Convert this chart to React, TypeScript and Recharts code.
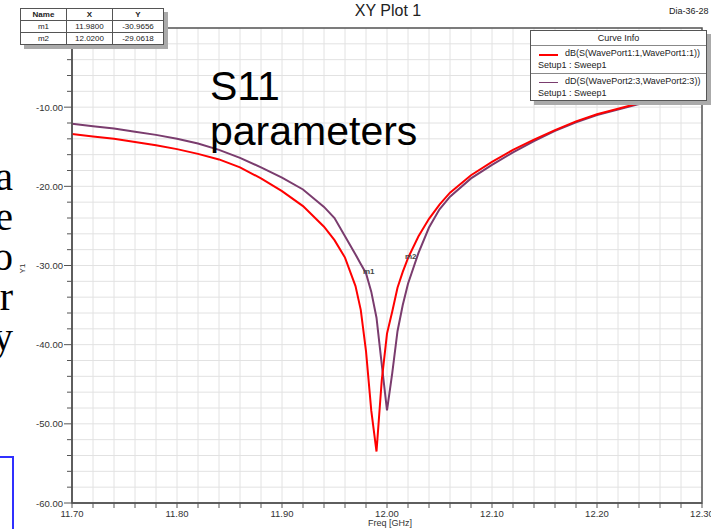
import React from "react";
import {
  LineChart,
  Line,
  XAxis,
  YAxis,
  CartesianGrid,
  ReferenceArea,
  ReferenceDot,
} from "recharts";

// ---------- data ----------
const freqGHz = [
  11.7, 11.72, 11.74, 11.76, 11.78, 11.8, 11.82, 11.84, 11.86, 11.88, 11.9, 11.92,
  11.94, 11.95, 11.96, 11.97, 11.975, 11.98, 11.985, 11.99, 11.995, 12.0, 12.005,
  12.01, 12.015, 12.02, 12.03, 12.04, 12.05, 12.06, 12.08, 12.1, 12.12, 12.14,
  12.16, 12.18, 12.2, 12.22, 12.24, 12.26, 12.28, 12.3,
];
const s11Port1 = [
  -13.4, -13.7, -14.0, -14.4, -14.8, -15.3, -15.9, -16.6, -17.6, -19.0, -20.6, -22.5,
  -25.1, -26.8, -29.0, -32.6, -35.6, -40.8, -48.3, -53.5, -44.5, -38.6, -35.8,
  -32.8, -30.8, -29.06, -26.3, -24.1, -22.3, -20.8, -18.6, -16.9, -15.4, -14.1,
  -12.9, -11.8, -10.9, -10.2, -9.5, -8.8, -8.2, -7.6,
];
const s33Port2 = [
  -12.1, -12.4, -12.7, -13.1, -13.5, -14.0, -14.6, -15.4, -16.4, -17.6, -18.9, -20.4,
  -22.6, -24.0, -26.3, -28.6, -29.8, -30.97, -33.3, -36.6, -42.5, -48.3, -43.6,
  -38.3, -35.0, -32.3, -28.4, -25.2, -22.9, -21.3, -19.0, -17.3, -15.7, -14.3,
  -13.0, -11.9, -11.0, -10.3, -9.6, -8.9, -8.3, -7.7,
];

const seriesNames = ["dB(S(WavePort1:1,WavePort1:1))", "dD(S(WavePort2:3,WavePort2:3))"];
const seriesSetup = ["Setup1 : Sweep1", "Setup1 : Sweep1"];

const markerNames = ["m1", "m2"];
const markerX = [11.98, 12.02];
const markerY = [-30.9656, -29.0618];
const markerXText = ["11.9800", "12.0200"];
const markerYText = ["-30.9656", "-29.0618"];

const xMajorTicks = [11.7, 11.8, 11.9, 12.0, 12.1, 12.2, 12.3];
const yMajorTicks = [-60, -50, -40, -30, -20, -10, 0];
const yLabelledTicks = [-60, -50, -40, -30, -20, -10];

const sideGlyphs = ["a", "e", "o", "r", "y"];

// minor subdivisions (axis decoration only)
const xTicks: number[] = [];
for (let i = 0; i < xMajorTicks.length - 1; i++) {
  for (let k = 0; k < 5; k++) {
    xTicks.push(Math.round((xMajorTicks[i] + (k * 0.1) / 5) * 1000) / 1000);
  }
}
xTicks.push(xMajorTicks[xMajorTicks.length - 1]);
const yTicks: number[] = [];
for (let i = 0; i < yMajorTicks.length - 1; i++) {
  for (let k = 0; k < 5; k++) yTicks.push(yMajorTicks[i] + k * 2);
}
yTicks.push(yMajorTicks[yMajorTicks.length - 1]);

const chartData = freqGHz.map((f, i) => ({ f, a: s11Port1[i], b: s33Port2[i] }));

const RED = "#ff0000";
const PURPLE = "#7a3c6e";
const AXIS = "#555555";
const BLUE = "#3030ff";
const FONT = "'Liberation Sans', Arial, sans-serif";

const isMajorX = (v: number) => xMajorTicks.some((m) => Math.abs(m - v) < 1e-6);
const isMajorY = (v: number) => yMajorTicks.some((m) => Math.abs(m - v) < 1e-6);
const isLabelY = (v: number) => yLabelledTicks.some((m) => Math.abs(m - v) < 1e-6);

const XTick = (props: any) => {
  const { x, y, payload } = props;
  const major = isMajorX(payload.value);
  return (
    <g>
      <line x1={x} x2={x} y1={y} y2={y + 5} stroke={AXIS} strokeWidth={1} />
      {major && (
        <text x={x} y={y + 14} textAnchor="middle" fontSize={9.5} fontFamily={FONT} fill="#333">
          {Number(payload.value).toFixed(2)}
        </text>
      )}
    </g>
  );
};

const YTick = (props: any) => {
  const { x, y, payload } = props;
  const major = isMajorY(payload.value);
  return (
    <g>
      <line x1={x} x2={x - (major ? 8 : 5)} y1={y} y2={y} stroke={AXIS} strokeWidth={1} />
      {isLabelY(payload.value) && (
        <text x={x - 9} y={y + 3.5} textAnchor="end" fontSize={9.5} fontFamily={FONT} fill="#333">
          {Number(payload.value).toFixed(2)}
        </text>
      )}
    </g>
  );
};

const MarkerLabel = (name: string) => (props: any) => {
  const { cx, cy } = props;
  return (
    <text x={cx - 3} y={cy + 1} fontSize={8} fontWeight="bold" fontFamily={FONT} fill="#444">
      {name}
    </text>
  );
};

const cellStyle: React.CSSProperties = {
  border: "1px solid #555",
  textAlign: "center",
  padding: 0,
  height: 11,
  lineHeight: "11px",
};

export default function App() {
  return (
    <div
      style={{
        position: "relative",
        width: 711,
        height: 529,
        overflow: "hidden",
        background: "#fff",
        fontFamily: FONT,
      }}
    >
      <style>{"body{margin:0;}"}</style>
      <LineChart
        width={711}
        height={529}
        data={chartData}
        margin={{ top: 28, right: 9, bottom: 0, left: 0 }}
      >
        <CartesianGrid stroke="#e2e2e2" strokeWidth={1} />
        <XAxis
          dataKey="f"
          type="number"
          domain={[11.7, 12.3]}
          ticks={xTicks}
          interval={0}
          height={26}
          tickSize={0}
          tickMargin={0}
          tickLine={false}
          axisLine={{ stroke: AXIS, strokeWidth: 1.5 }}
          tick={<XTick />}
          allowDataOverflow
        />
        <YAxis
          type="number"
          domain={[-60, 0]}
          ticks={yTicks}
          interval={0}
          width={72}
          tickSize={0}
          tickMargin={0}
          tickLine={false}
          axisLine={{ stroke: AXIS, strokeWidth: 1.5 }}
          tick={<YTick />}
          allowDataOverflow
        />
        <ReferenceArea
          x1={11.7}
          x2={12.3}
          y1={-60}
          y2={0}
          fill="none"
          stroke={AXIS}
          strokeWidth={1.5}
          ifOverflow="extendDomain"
        />
        <Line
          dataKey="b"
          stroke={PURPLE}
          strokeWidth={2}
          dot={false}
          isAnimationActive={false}
          type="linear"
        />
        <Line
          dataKey="a"
          stroke={RED}
          strokeWidth={2}
          dot={false}
          isAnimationActive={false}
          type="linear"
        />
        {markerNames.map((n, i) => (
          <ReferenceDot
            key={n}
            x={markerX[i]}
            y={markerY[i]}
            r={0}
            shape={MarkerLabel(n)}
          />
        ))}
      </LineChart>

      {/* Title */}
      <div
        style={{
          position: "absolute",
          left: 288,
          top: 2,
          width: 200,
          textAlign: "center",
          fontSize: 16,
          color: "#222",
        }}
      >
        XY Plot 1
      </div>
      <div style={{ position: "absolute", left: 669, top: 6, fontSize: 9, color: "#222", whiteSpace: "nowrap" }}>
        Dia-36-28
      </div>

      {/* axis titles */}
      <div
        style={{
          position: "absolute",
          left: 18,
          top: 264,
          fontSize: 8,
          color: "#333",
          transform: "rotate(-90deg)",
          transformOrigin: "center",
        }}
      >
        Y1
      </div>
      <div
        style={{
          position: "absolute",
          left: 290,
          top: 518,
          width: 200,
          textAlign: "center",
          fontSize: 9,
          lineHeight: "10px",
          color: "#333",
        }}
      >
        Freq [GHz]
      </div>

      {/* marker table */}
      <div style={{ position: "absolute", left: 20, top: 8, boxShadow: "4px 4px 0 #aaa", background: "#fff" }}>
        <table
          style={{
            borderCollapse: "collapse",
            fontSize: 8,
            color: "#222",
            fontFamily: FONT,
            border: "1px solid #555",
          }}
        >
          <tbody>
            <tr style={{ fontWeight: "bold" }}>
              <td style={{ ...cellStyle, width: 45 }}>Name</td>
              <td style={{ ...cellStyle, width: 45 }}>X</td>
              <td style={{ ...cellStyle, width: 50 }}>Y</td>
            </tr>
            {markerNames.map((n, i) => (
              <tr key={n}>
                <td style={cellStyle}>{n}</td>
                <td style={cellStyle}>{markerXText[i]}</td>
                <td style={cellStyle}>{markerYText[i]}</td>
              </tr>
            ))}
          </tbody>
        </table>
      </div>

      {/* curve info legend */}
      <div
        style={{
          position: "absolute",
          left: 530,
          top: 30,
          width: 175,
          height: 69,
          border: "1px solid #555",
          background: "#fff",
          boxShadow: "4px 4px 0 #aaa",
          fontSize: 9,
          color: "#222",
        }}
      >
        <div style={{ height: 14, lineHeight: "14px", textAlign: "center", borderBottom: "1px solid #888" }}>
          Curve Info
        </div>
        {seriesNames.map((n, i) => (
          <div key={n} style={{ height: 27, borderBottom: i === 0 ? "1px solid #888" : "none", position: "relative" }}>
            <div
              style={{
                position: "absolute",
                left: 8,
                top: 8,
                width: 19,
                height: i === 0 ? 2 : 1,
                background: i === 0 ? RED : PURPLE,
              }}
            />
            <div style={{ position: "absolute", left: 34, top: 2, whiteSpace: "nowrap" }}>{n}</div>
            <div style={{ position: "absolute", left: 7, top: 14, whiteSpace: "nowrap" }}>{seriesSetup[i]}</div>
          </div>
        ))}
      </div>

      {/* slide overlay text */}
      <div
        style={{
          position: "absolute",
          left: 210,
          top: 64,
          fontSize: 41,
          lineHeight: "45px",
          color: "#000",
          fontFamily: "'Liberation Sans', Arial, sans-serif",
        }}
      >
        S11
        <br />
        parameters
      </div>
      {sideGlyphs.map((g, i) => (
        <div
          key={i}
          style={{
            position: "absolute",
            left: -50,
            top: 162 + i * 40,
            width: 63,
            height: 30,
            textAlign: "right",
            fontSize: 40,
            lineHeight: "30px",
            color: "#000",
            fontFamily: "'Liberation Serif', 'Times New Roman', serif",
          }}
        >
          {g}
        </div>
      ))}
      <div style={{ position: "absolute", left: 0, top: 456, width: 14, height: 2, background: BLUE }} />
      <div style={{ position: "absolute", left: 12, top: 456, width: 2, height: 80, background: BLUE }} />
    </div>
  );
}
